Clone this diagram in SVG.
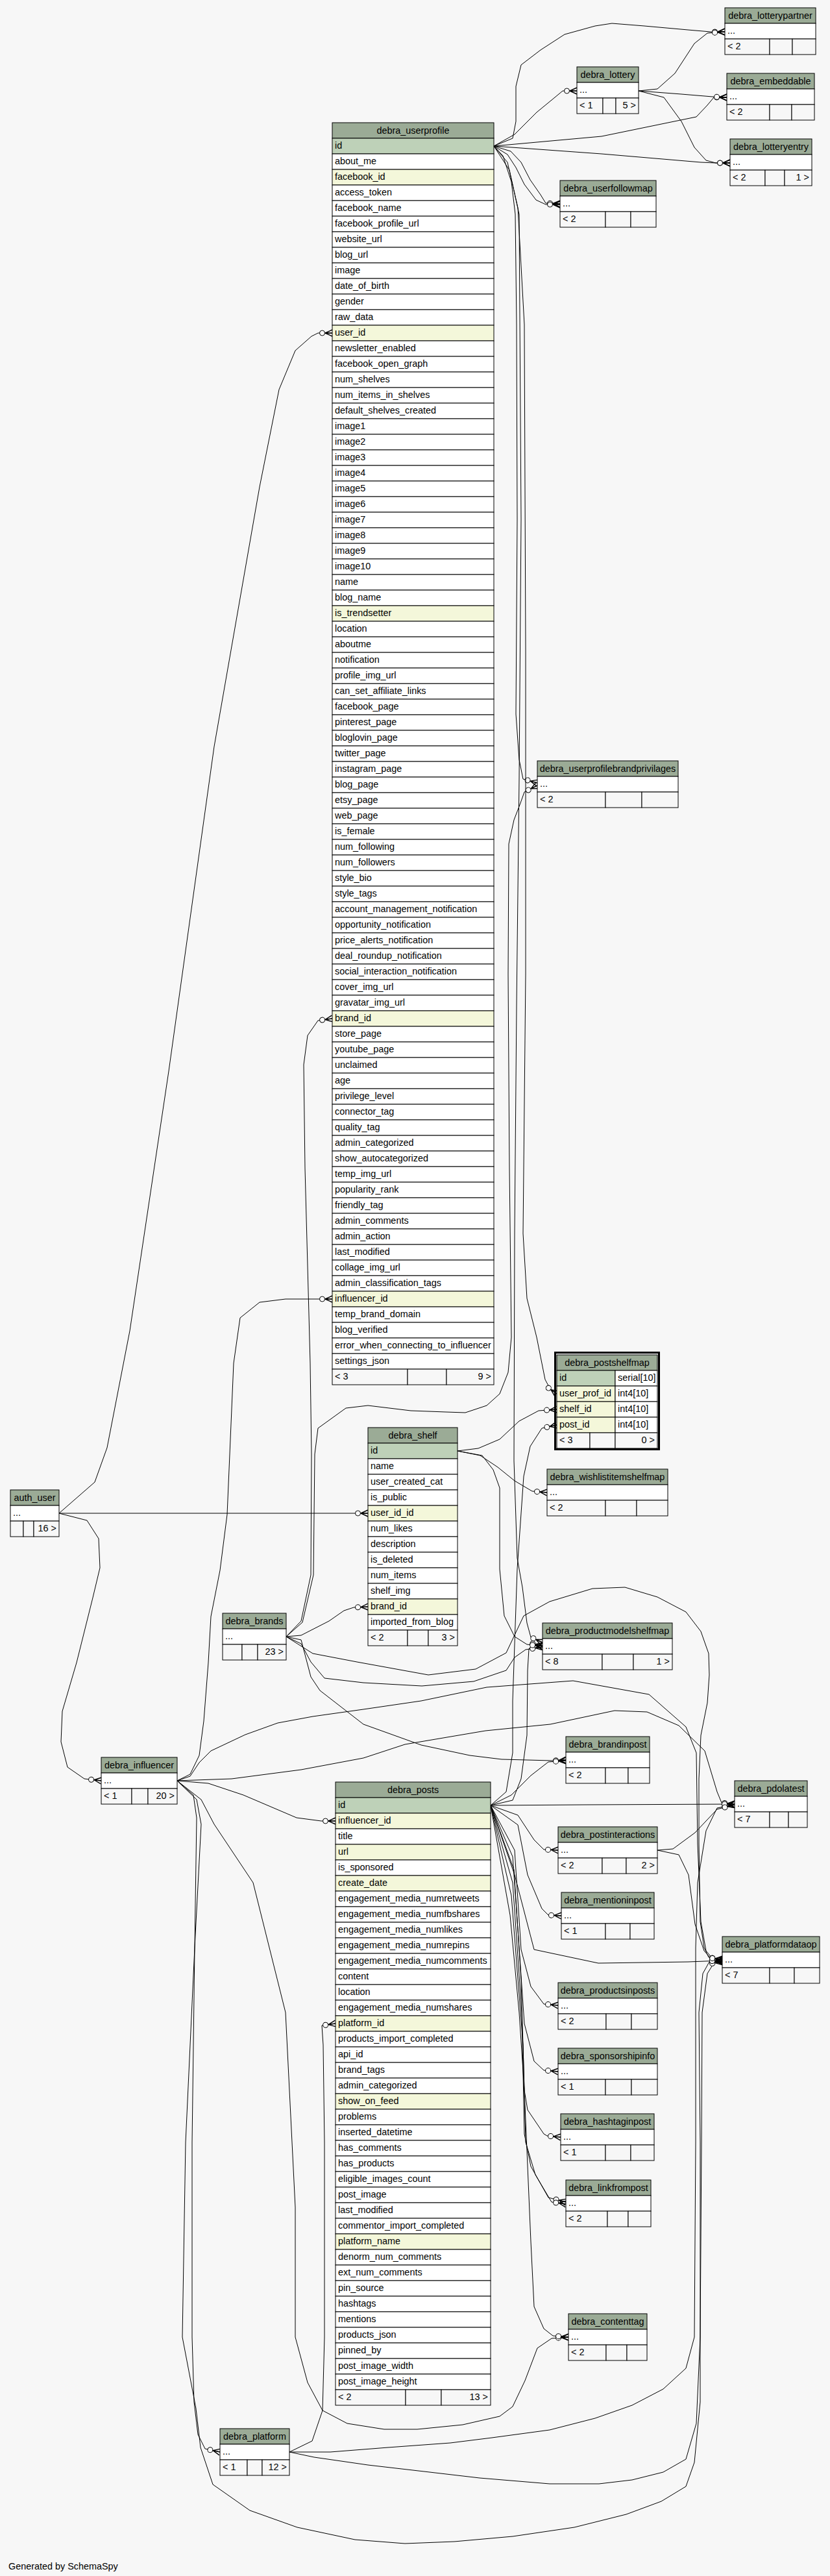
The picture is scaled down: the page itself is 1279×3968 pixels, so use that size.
<svg xmlns="http://www.w3.org/2000/svg" width="1279" height="3968" viewBox="0 0 1279 3968">
<style>
.h{fill:#9bab96;stroke:#000;stroke-width:1}
.pk{fill:#bed1b8;stroke:#000;stroke-width:1}
.fk{fill:#f4f7da;stroke:#000;stroke-width:1}
.r{fill:#fff;stroke:#000;stroke-width:1}
.f{fill:#f7f7f7;stroke:#000;stroke-width:1}
text{font-family:"Liberation Sans",Arial,Helvetica,sans-serif;font-size:14.4px;fill:#000}
.c{text-anchor:middle}
.e{text-anchor:end}
#edges path{fill:none;stroke:#000;stroke-width:1;stroke-linejoin:round;marker-end:url(#cf)}
</style>
<defs>
<marker id="cf" markerUnits="userSpaceOnUse" markerWidth="24" markerHeight="16" refX="22" refY="8" orient="auto" overflow="visible">
<path d="M11,8 L22,3 M11,8 L22,8 M11,8 L22,13" stroke="#000" fill="none" stroke-width="1.4"/>
<circle cx="6.5" cy="8" r="4" fill="#fff" stroke="#000" stroke-width="1"/>
</marker>
</defs>
<rect width="1279" height="3968" fill="#f7f7f7"/>
<g id="edges">
<path d="M761,225 L790,213 L795,187 L795,133 L803,100 L833,77 L870,53 L917,40 L943,36 L993,40 L1060,46 L1095,49 L1117,49"/>
<path d="M761,225 L793,207 L827,173 L855,150 L867,140 L889,140"/>
<path d="M761,225 L927,210 L1073,180 L1090,162 L1100,150 L1120,150"/>
<path d="M761,225 L927,237 L1080,250 L1103,251 L1125,251"/>
<path d="M761,225 L787,233 L803,250 L817,277 L833,300 L841,313 L863,314"/>
<path d="M761,225 L782,238 L795,258 L808,284 L826,308 L841,315 L863,315"/>
<path d="M984,140 L1013,137 L1040,113 L1070,67 L1090,51 L1117,49"/>
<path d="M984,140 L1050,145 L1098,149 L1120,150"/>
<path d="M984,140 L1023,150 L1050,187 L1070,227 L1088,247 L1103,251 L1125,251"/>
<path d="M761,225 L775,240 L788,280 L794,330 L796,500 L797,800 L795,1100 L800,1170 L806,1200 L828,1206"/>
<path d="M761,225 L782,250 L798,320 L808,500 L810,1000 L810,1500 L806,1900 L812,2000 L827,2060 L840,2125 L848,2140 L858,2147"/>
<path d="M761,225 L785,262 L800,330 L803,800 L800,1200 L796,1550 L793,1900 L792,2250 L797,2400 L805,2445 L812,2500 L818,2522 L836,2530"/>
<path d="M91,2331 L146,2283 L165,2230 L200,2050 L260,1650 L330,1150 L400,750 L430,600 L455,540 L480,518 L490,513 L512,513"/>
<path d="M91,2331 L567,2331"/>
<path d="M91,2331 L134,2342 L152,2370 L154,2415 L143,2461 L118,2561 L96,2636 L94,2683 L104,2722 L130,2740 L156,2743"/>
<path d="M441,2521 L464,2497 L479,2426 L480,2240 L478,2100 L470,1800 L468,1640 L474,1595 L490,1572 L512,1569"/>
<path d="M441,2521 L466,2499 L483,2426 L485,2240 L490,2200 L533,2169 L567,2165 L633,2173 L687,2175 L717,2176 L750,2165 L770,2147 L783,2114 L788,2060 L785,1800 L783,1500 L784,1300 L792,1263 L802,1237 L808,1220 L828,1210"/>
<path d="M441,2521 L464,2519 L507,2497 L530,2481 L545,2476 L567,2475"/>
<path d="M441,2521 L464,2532 L479,2560 L500,2585 L560,2592 L650,2597 L730,2590 L780,2573 L793,2553 L810,2541 L836,2537"/>
<path d="M441,2521 L464,2526 L479,2583 L493,2604 L560,2656 L649,2688 L724,2704 L773,2710 L850,2712 L872,2711"/>
<path d="M441,2521 L482,2547 L550,2560 L660,2580 L733,2571 L780,2546 L807,2489 L847,2467 L913,2447 L963,2445 L1013,2460 L1057,2483 L1080,2513 L1092,2547 L1093,2580 L1090,2623 L1080,2673 L1077,2740 L1077,2840 L1079,2960 L1085,3000 L1092,3015 L1113,3019"/>
<path d="M273,2743 L293,2733 L307,2704 L314,2651 L321,2561 L325,2490 L339,2419 L350,2333 L354,2240 L360,2100 L370,2030 L400,2006 L440,2001 L490,2001 L512,2001"/>
<path d="M273,2743 L321,2747 L375,2765 L457,2800 L495,2805 L517,2805"/>
<path d="M273,2743 L293,2736 L307,2715 L325,2697 L378,2672 L428,2654 L482,2644 L560,2633 L649,2620 L750,2599 L883,2589 L1000,2610 L1057,2660 L1073,2700 L1075,2840 L1080,2960 L1088,3005 L1098,3017 L1113,3018"/>
<path d="M273,2743 L357,2740 L464,2726 L560,2708 L624,2687 L748,2666 L848,2656 L947,2635 L997,2637 L1046,2658 L1086,2697 L1105,2760 L1112,2777 L1132,2779"/>
<path d="M273,2743 L298,2765 L303,2800 L300,3000 L296,3300 L296,3600 L299,3700 L305,3750 L316,3772 L339,3777"/>
<path d="M273,2743 L303,2772 L310,2810 L300,3000 L286,3300 L281,3600 L302,3710 L309,3770 L328,3827 L385,3867 L458,3893 L547,3912 L624,3918 L700,3915 L790,3907 L885,3893 L965,3873 L1019,3853 L1057,3830 L1070,3793 L1079,3700 L1079,3300 L1077,3100 L1083,3040 L1093,3022 L1113,3021"/>
<path d="M273,2743 L310,2772 L330,2810 L390,2900 L440,3100 L455,3400 L455,3600 L474,3670 L497,3713 L535,3733 L592,3742 L643,3742 L713,3735 L770,3722 L790,3707 L809,3667 L828,3617 L850,3602 L876,3600"/>
<path d="M446,3777 L481,3760 L497,3713 L500,3600 L500,3300 L498,3150 L496,3120 L517,3117"/>
<path d="M446,3777 L509,3777 L598,3770 L694,3763 L758,3755 L847,3743 L917,3725 L974,3705 L1022,3680 L1057,3648 L1070,3600 L1072,3300 L1072,3000 L1075,2900 L1088,2820 L1105,2785 L1132,2780"/>
<path d="M446,3777 L484,3785 L567,3797 L662,3808 L739,3817 L847,3826 L923,3826 L974,3820 L1022,3808 L1057,3788 L1073,3733 L1079,3600 L1081,3300 L1082,3100 L1090,3040 L1100,3024 L1113,3022"/>
<path d="M756,2781 L900,2780 L1132,2779"/>
<path d="M756,2781 L788,2765 L818,2735 L845,2714 L872,2712"/>
<path d="M756,2781 L798,2796 L823,2834 L838,2849 L860,2850"/>
<path d="M756,2781 L798,2811 L813,2888 L835,2940 L845,2950 L865,2951"/>
<path d="M756,2781 L793,2888 L823,3003 L922,3024 L1060,3022 L1113,3020"/>
<path d="M756,2781 L793,2850 L803,3003 L818,3060 L838,3087 L860,3089"/>
<path d="M756,2781 L790,2860 L800,3000 L808,3117 L823,3175 L838,3189 L860,3191"/>
<path d="M756,2781 L792,2880 L803,3050 L808,3220 L813,3250 L838,3287 L843,3290 L864,3292"/>
<path d="M756,2781 L790,2900 L804,3100 L808,3287 L818,3337 L845,3385 L872,3392"/>
<path d="M756,2781 L788,2920 L806,3150 L810,3300 L825,3350 L850,3392 L872,3395"/>
<path d="M756,2781 L786,2950 L800,3100 L808,3220 L818,3453 L823,3553 L838,3587 L852,3598 L876,3600"/>
<path d="M756,2781 L780,2760 L790,2700 L790,2620 L797,2417 L807,2274 L817,2228 L835,2200 L858,2195"/>
<path d="M756,2781 L790,2773 L803,2740 L812,2673 L813,2573 L815,2540 L822,2532 L836,2535"/>
<path d="M705,2235 L737,2231 L770,2217 L800,2189 L830,2173 L858,2171"/>
<path d="M705,2235 L740,2242 L767,2260 L793,2281 L820,2297 L843,2299"/>
<path d="M705,2235 L743,2242 L760,2264 L770,2292 L770,2417 L777,2489 L793,2521 L812,2533 L836,2536"/>
<path d="M1013,2850 L1037,2848 L1071,2823 L1105,2787 L1132,2780"/>
<path d="M1013,2850 L1046,2857 L1061,2888 L1071,2964 L1085,3005 L1095,3016 L1113,3019"/>
</g>
<g id="debra_lotterypartner">
<rect class="h" x="1117" y="12" width="140" height="24"/><text class="c" x="1187" y="29">debra_lotterypartner</text>
<rect class="r" x="1117" y="36" width="140" height="24"/><text x="1121" y="52">...</text>
<rect class="f" x="1117" y="60" width="69" height="24"/><rect class="f" x="1186" y="60" width="35" height="24"/><rect class="f" x="1221" y="60" width="36" height="24"/>
<text x="1121" y="76">&lt; 2</text>
</g>
<g id="debra_lottery">
<rect class="h" x="889" y="103" width="95" height="24"/><text class="c" x="936.5" y="120">debra_lottery</text>
<rect class="r" x="889" y="127" width="95" height="24"/><text x="893" y="143">...</text>
<rect class="f" x="889" y="151" width="40" height="24"/><rect class="f" x="929" y="151" width="20" height="24"/><rect class="f" x="949" y="151" width="35" height="24"/>
<text x="893" y="167">&lt; 1</text><text class="e" x="980" y="167">5 &gt;</text>
</g>
<g id="debra_embeddable">
<rect class="h" x="1120" y="113" width="135" height="24"/><text class="c" x="1187.5" y="130">debra_embeddable</text>
<rect class="r" x="1120" y="137" width="135" height="24"/><text x="1124" y="153">...</text>
<rect class="f" x="1120" y="161" width="66" height="24"/><rect class="f" x="1186" y="161" width="34" height="24"/><rect class="f" x="1220" y="161" width="35" height="24"/>
<text x="1124" y="177">&lt; 2</text>
</g>
<g id="debra_lotteryentry">
<rect class="h" x="1125" y="214" width="126" height="24"/><text class="c" x="1188" y="231">debra_lotteryentry</text>
<rect class="r" x="1125" y="238" width="126" height="24"/><text x="1129" y="254">...</text>
<rect class="f" x="1125" y="262" width="54" height="24"/><rect class="f" x="1179" y="262" width="30" height="24"/><rect class="f" x="1209" y="262" width="42" height="24"/>
<text x="1129" y="278">&lt; 2</text><text class="e" x="1247" y="278">1 &gt;</text>
</g>
<g id="debra_userfollowmap">
<rect class="h" x="863" y="278" width="148" height="24"/><text class="c" x="937" y="295">debra_userfollowmap</text>
<rect class="r" x="863" y="302" width="148" height="24"/><text x="867" y="318">...</text>
<rect class="f" x="863" y="326" width="70" height="24"/><rect class="f" x="933" y="326" width="39" height="24"/><rect class="f" x="972" y="326" width="39" height="24"/>
<text x="867" y="342">&lt; 2</text>
</g>
<g id="debra_userprofile">
<rect class="h" x="512" y="189" width="249" height="24"/><text class="c" x="636.5" y="206">debra_userprofile</text>
<rect class="pk" x="512" y="213" width="249" height="24"/><text x="516" y="229">id</text>
<rect class="r" x="512" y="237" width="249" height="24"/><text x="516" y="253">about_me</text>
<rect class="fk" x="512" y="261" width="249" height="24"/><text x="516" y="277">facebook_id</text>
<rect class="r" x="512" y="285" width="249" height="24"/><text x="516" y="301">access_token</text>
<rect class="r" x="512" y="309" width="249" height="24"/><text x="516" y="325">facebook_name</text>
<rect class="r" x="512" y="333" width="249" height="24"/><text x="516" y="349">facebook_profile_url</text>
<rect class="r" x="512" y="357" width="249" height="24"/><text x="516" y="373">website_url</text>
<rect class="r" x="512" y="381" width="249" height="24"/><text x="516" y="397">blog_url</text>
<rect class="r" x="512" y="405" width="249" height="24"/><text x="516" y="421">image</text>
<rect class="r" x="512" y="429" width="249" height="24"/><text x="516" y="445">date_of_birth</text>
<rect class="r" x="512" y="453" width="249" height="24"/><text x="516" y="469">gender</text>
<rect class="r" x="512" y="477" width="249" height="24"/><text x="516" y="493">raw_data</text>
<rect class="fk" x="512" y="501" width="249" height="24"/><text x="516" y="517">user_id</text>
<rect class="r" x="512" y="525" width="249" height="24"/><text x="516" y="541">newsletter_enabled</text>
<rect class="r" x="512" y="549" width="249" height="24"/><text x="516" y="565">facebook_open_graph</text>
<rect class="r" x="512" y="573" width="249" height="24"/><text x="516" y="589">num_shelves</text>
<rect class="r" x="512" y="597" width="249" height="24"/><text x="516" y="613">num_items_in_shelves</text>
<rect class="r" x="512" y="621" width="249" height="24"/><text x="516" y="637">default_shelves_created</text>
<rect class="r" x="512" y="645" width="249" height="24"/><text x="516" y="661">image1</text>
<rect class="r" x="512" y="669" width="249" height="24"/><text x="516" y="685">image2</text>
<rect class="r" x="512" y="693" width="249" height="24"/><text x="516" y="709">image3</text>
<rect class="r" x="512" y="717" width="249" height="24"/><text x="516" y="733">image4</text>
<rect class="r" x="512" y="741" width="249" height="24"/><text x="516" y="757">image5</text>
<rect class="r" x="512" y="765" width="249" height="24"/><text x="516" y="781">image6</text>
<rect class="r" x="512" y="789" width="249" height="24"/><text x="516" y="805">image7</text>
<rect class="r" x="512" y="813" width="249" height="24"/><text x="516" y="829">image8</text>
<rect class="r" x="512" y="837" width="249" height="24"/><text x="516" y="853">image9</text>
<rect class="r" x="512" y="861" width="249" height="24"/><text x="516" y="877">image10</text>
<rect class="r" x="512" y="885" width="249" height="24"/><text x="516" y="901">name</text>
<rect class="r" x="512" y="909" width="249" height="24"/><text x="516" y="925">blog_name</text>
<rect class="fk" x="512" y="933" width="249" height="24"/><text x="516" y="949">is_trendsetter</text>
<rect class="r" x="512" y="957" width="249" height="24"/><text x="516" y="973">location</text>
<rect class="r" x="512" y="981" width="249" height="24"/><text x="516" y="997">aboutme</text>
<rect class="r" x="512" y="1005" width="249" height="24"/><text x="516" y="1021">notification</text>
<rect class="r" x="512" y="1029" width="249" height="24"/><text x="516" y="1045">profile_img_url</text>
<rect class="r" x="512" y="1053" width="249" height="24"/><text x="516" y="1069">can_set_affiliate_links</text>
<rect class="r" x="512" y="1077" width="249" height="24"/><text x="516" y="1093">facebook_page</text>
<rect class="r" x="512" y="1101" width="249" height="24"/><text x="516" y="1117">pinterest_page</text>
<rect class="r" x="512" y="1125" width="249" height="24"/><text x="516" y="1141">bloglovin_page</text>
<rect class="r" x="512" y="1149" width="249" height="24"/><text x="516" y="1165">twitter_page</text>
<rect class="r" x="512" y="1173" width="249" height="24"/><text x="516" y="1189">instagram_page</text>
<rect class="r" x="512" y="1197" width="249" height="24"/><text x="516" y="1213">blog_page</text>
<rect class="r" x="512" y="1221" width="249" height="24"/><text x="516" y="1237">etsy_page</text>
<rect class="r" x="512" y="1245" width="249" height="24"/><text x="516" y="1261">web_page</text>
<rect class="r" x="512" y="1269" width="249" height="24"/><text x="516" y="1285">is_female</text>
<rect class="r" x="512" y="1293" width="249" height="24"/><text x="516" y="1309">num_following</text>
<rect class="r" x="512" y="1317" width="249" height="24"/><text x="516" y="1333">num_followers</text>
<rect class="r" x="512" y="1341" width="249" height="24"/><text x="516" y="1357">style_bio</text>
<rect class="r" x="512" y="1365" width="249" height="24"/><text x="516" y="1381">style_tags</text>
<rect class="r" x="512" y="1389" width="249" height="24"/><text x="516" y="1405">account_management_notification</text>
<rect class="r" x="512" y="1413" width="249" height="24"/><text x="516" y="1429">opportunity_notification</text>
<rect class="r" x="512" y="1437" width="249" height="24"/><text x="516" y="1453">price_alerts_notification</text>
<rect class="r" x="512" y="1461" width="249" height="24"/><text x="516" y="1477">deal_roundup_notification</text>
<rect class="r" x="512" y="1485" width="249" height="24"/><text x="516" y="1501">social_interaction_notification</text>
<rect class="r" x="512" y="1509" width="249" height="24"/><text x="516" y="1525">cover_img_url</text>
<rect class="r" x="512" y="1533" width="249" height="24"/><text x="516" y="1549">gravatar_img_url</text>
<rect class="fk" x="512" y="1557" width="249" height="24"/><text x="516" y="1573">brand_id</text>
<rect class="r" x="512" y="1581" width="249" height="24"/><text x="516" y="1597">store_page</text>
<rect class="r" x="512" y="1605" width="249" height="24"/><text x="516" y="1621">youtube_page</text>
<rect class="r" x="512" y="1629" width="249" height="24"/><text x="516" y="1645">unclaimed</text>
<rect class="r" x="512" y="1653" width="249" height="24"/><text x="516" y="1669">age</text>
<rect class="r" x="512" y="1677" width="249" height="24"/><text x="516" y="1693">privilege_level</text>
<rect class="r" x="512" y="1701" width="249" height="24"/><text x="516" y="1717">connector_tag</text>
<rect class="r" x="512" y="1725" width="249" height="24"/><text x="516" y="1741">quality_tag</text>
<rect class="r" x="512" y="1749" width="249" height="24"/><text x="516" y="1765">admin_categorized</text>
<rect class="r" x="512" y="1773" width="249" height="24"/><text x="516" y="1789">show_autocategorized</text>
<rect class="r" x="512" y="1797" width="249" height="24"/><text x="516" y="1813">temp_img_url</text>
<rect class="r" x="512" y="1821" width="249" height="24"/><text x="516" y="1837">popularity_rank</text>
<rect class="r" x="512" y="1845" width="249" height="24"/><text x="516" y="1861">friendly_tag</text>
<rect class="r" x="512" y="1869" width="249" height="24"/><text x="516" y="1885">admin_comments</text>
<rect class="r" x="512" y="1893" width="249" height="24"/><text x="516" y="1909">admin_action</text>
<rect class="r" x="512" y="1917" width="249" height="24"/><text x="516" y="1933">last_modified</text>
<rect class="r" x="512" y="1941" width="249" height="24"/><text x="516" y="1957">collage_img_url</text>
<rect class="r" x="512" y="1965" width="249" height="24"/><text x="516" y="1981">admin_classification_tags</text>
<rect class="fk" x="512" y="1989" width="249" height="24"/><text x="516" y="2005">influencer_id</text>
<rect class="r" x="512" y="2013" width="249" height="24"/><text x="516" y="2029">temp_brand_domain</text>
<rect class="r" x="512" y="2037" width="249" height="24"/><text x="516" y="2053">blog_verified</text>
<rect class="r" x="512" y="2061" width="249" height="24"/><text x="516" y="2077">error_when_connecting_to_influencer</text>
<rect class="r" x="512" y="2085" width="249" height="24"/><text x="516" y="2101">settings_json</text>
<rect class="f" x="512" y="2109" width="116" height="24"/><rect class="f" x="628" y="2109" width="60" height="24"/><rect class="f" x="688" y="2109" width="73" height="24"/>
<text x="516" y="2125">&lt; 3</text><text class="e" x="757" y="2125">9 &gt;</text>
</g>
<g id="debra_userprofilebrandprivilages">
<rect class="h" x="828" y="1172" width="217" height="24"/><text class="c" x="936.5" y="1189">debra_userprofilebrandprivilages</text>
<rect class="r" x="828" y="1196" width="217" height="24"/><text x="832" y="1212">...</text>
<rect class="f" x="828" y="1220" width="105" height="24"/><rect class="f" x="933" y="1220" width="56" height="24"/><rect class="f" x="989" y="1220" width="56" height="24"/>
<text x="832" y="1236">&lt; 2</text>
</g>
<g id="debra_postshelfmap">
<rect x="855.5" y="2083.5" width="160" height="149" fill="none" stroke="#000" stroke-width="3"/>
<rect class="h" x="858" y="2087" width="155" height="24"/><text class="c" x="935.5" y="2104">debra_postshelfmap</text>
<rect class="pk" x="858" y="2111" width="90" height="24"/><rect class="r" x="948" y="2111" width="65" height="24"/>
<text x="862" y="2127">id</text><text x="952" y="2127">serial[10]</text>
<rect class="fk" x="858" y="2135" width="90" height="24"/><rect class="r" x="948" y="2135" width="65" height="24"/>
<text x="862" y="2151">user_prof_id</text><text x="952" y="2151">int4[10]</text>
<rect class="fk" x="858" y="2159" width="90" height="24"/><rect class="r" x="948" y="2159" width="65" height="24"/>
<text x="862" y="2175">shelf_id</text><text x="952" y="2175">int4[10]</text>
<rect class="fk" x="858" y="2183" width="90" height="24"/><rect class="r" x="948" y="2183" width="65" height="24"/>
<text x="862" y="2199">post_id</text><text x="952" y="2199">int4[10]</text>
<rect class="f" x="858" y="2207" width="51" height="24"/><rect class="f" x="909" y="2207" width="39" height="24"/><rect class="f" x="948" y="2207" width="65" height="24"/>
<text x="862" y="2223">&lt; 3</text><text class="e" x="1009" y="2223">0 &gt;</text>
</g>
<g id="debra_shelf">
<rect class="h" x="567" y="2199" width="138" height="24"/><text class="c" x="636" y="2216">debra_shelf</text>
<rect class="pk" x="567" y="2223" width="138" height="24"/><text x="571" y="2239">id</text>
<rect class="r" x="567" y="2247" width="138" height="24"/><text x="571" y="2263">name</text>
<rect class="r" x="567" y="2271" width="138" height="24"/><text x="571" y="2287">user_created_cat</text>
<rect class="r" x="567" y="2295" width="138" height="24"/><text x="571" y="2311">is_public</text>
<rect class="fk" x="567" y="2319" width="138" height="24"/><text x="571" y="2335">user_id_id</text>
<rect class="r" x="567" y="2343" width="138" height="24"/><text x="571" y="2359">num_likes</text>
<rect class="r" x="567" y="2367" width="138" height="24"/><text x="571" y="2383">description</text>
<rect class="r" x="567" y="2391" width="138" height="24"/><text x="571" y="2407">is_deleted</text>
<rect class="r" x="567" y="2415" width="138" height="24"/><text x="571" y="2431">num_items</text>
<rect class="r" x="567" y="2439" width="138" height="24"/><text x="571" y="2455">shelf_img</text>
<rect class="fk" x="567" y="2463" width="138" height="24"/><text x="571" y="2479">brand_id</text>
<rect class="r" x="567" y="2487" width="138" height="24"/><text x="571" y="2503">imported_from_blog</text>
<rect class="f" x="567" y="2511" width="61" height="24"/><rect class="f" x="628" y="2511" width="32" height="24"/><rect class="f" x="660" y="2511" width="45" height="24"/>
<text x="571" y="2527">&lt; 2</text><text class="e" x="701" y="2527">3 &gt;</text>
</g>
<g id="debra_wishlistitemshelfmap">
<rect class="h" x="843" y="2263" width="186" height="24"/><text class="c" x="936" y="2280">debra_wishlistitemshelfmap</text>
<rect class="r" x="843" y="2287" width="186" height="24"/><text x="847" y="2303">...</text>
<rect class="f" x="843" y="2311" width="90" height="24"/><rect class="f" x="933" y="2311" width="48" height="24"/><rect class="f" x="981" y="2311" width="48" height="24"/>
<text x="847" y="2327">&lt; 2</text>
</g>
<g id="debra_productmodelshelfmap">
<rect class="h" x="836" y="2500" width="200" height="24"/><text class="c" x="936" y="2517">debra_productmodelshelfmap</text>
<rect class="r" x="836" y="2524" width="200" height="24"/><text x="840" y="2540">...</text>
<rect class="f" x="836" y="2548" width="92" height="24"/><rect class="f" x="928" y="2548" width="48" height="24"/><rect class="f" x="976" y="2548" width="60" height="24"/>
<text x="840" y="2564">&lt; 8</text><text class="e" x="1032" y="2564">1 &gt;</text>
</g>
<g id="auth_user">
<rect class="h" x="16" y="2295" width="75" height="24"/><text class="c" x="53.5" y="2312">auth_user</text>
<rect class="r" x="16" y="2319" width="75" height="24"/><text x="20" y="2335">...</text>
<rect class="f" x="16" y="2343" width="20" height="24"/><rect class="f" x="36" y="2343" width="16" height="24"/><rect class="f" x="52" y="2343" width="39" height="24"/>
<text class="e" x="87" y="2359">16 &gt;</text>
</g>
<g id="debra_brands">
<rect class="h" x="343" y="2485" width="98" height="24"/><text class="c" x="392" y="2502">debra_brands</text>
<rect class="r" x="343" y="2509" width="98" height="24"/><text x="347" y="2525">...</text>
<rect class="f" x="343" y="2533" width="30" height="24"/><rect class="f" x="373" y="2533" width="24" height="24"/><rect class="f" x="397" y="2533" width="44" height="24"/>
<text class="e" x="437" y="2549">23 &gt;</text>
</g>
<g id="debra_influencer">
<rect class="h" x="156" y="2707" width="117" height="24"/><text class="c" x="214.5" y="2724">debra_influencer</text>
<rect class="r" x="156" y="2731" width="117" height="24"/><text x="160" y="2747">...</text>
<rect class="f" x="156" y="2755" width="47" height="24"/><rect class="f" x="203" y="2755" width="25" height="24"/><rect class="f" x="228" y="2755" width="45" height="24"/>
<text x="160" y="2771">&lt; 1</text><text class="e" x="269" y="2771">20 &gt;</text>
</g>
<g id="debra_brandinpost">
<rect class="h" x="872" y="2675" width="129" height="24"/><text class="c" x="936.5" y="2692">debra_brandinpost</text>
<rect class="r" x="872" y="2699" width="129" height="24"/><text x="876" y="2715">...</text>
<rect class="f" x="872" y="2723" width="61" height="24"/><rect class="f" x="933" y="2723" width="35" height="24"/><rect class="f" x="968" y="2723" width="33" height="24"/>
<text x="876" y="2739">&lt; 2</text>
</g>
<g id="debra_pdolatest">
<rect class="h" x="1132" y="2743" width="112" height="24"/><text class="c" x="1188" y="2760">debra_pdolatest</text>
<rect class="r" x="1132" y="2767" width="112" height="24"/><text x="1136" y="2783">...</text>
<rect class="f" x="1132" y="2791" width="54" height="24"/><rect class="f" x="1186" y="2791" width="29" height="24"/><rect class="f" x="1215" y="2791" width="29" height="24"/>
<text x="1136" y="2807">&lt; 7</text>
</g>
<g id="debra_postinteractions">
<rect class="h" x="860" y="2814" width="153" height="24"/><text class="c" x="936.5" y="2831">debra_postinteractions</text>
<rect class="r" x="860" y="2838" width="153" height="24"/><text x="864" y="2854">...</text>
<rect class="f" x="860" y="2862" width="68" height="24"/><rect class="f" x="928" y="2862" width="37" height="24"/><rect class="f" x="965" y="2862" width="48" height="24"/>
<text x="864" y="2878">&lt; 2</text><text class="e" x="1009" y="2878">2 &gt;</text>
</g>
<g id="debra_mentioninpost">
<rect class="h" x="865" y="2915" width="143" height="24"/><text class="c" x="936.5" y="2932">debra_mentioninpost</text>
<rect class="r" x="865" y="2939" width="143" height="24"/><text x="869" y="2955">...</text>
<rect class="f" x="865" y="2963" width="68" height="24"/><rect class="f" x="933" y="2963" width="38" height="24"/><rect class="f" x="971" y="2963" width="37" height="24"/>
<text x="869" y="2979">&lt; 1</text>
</g>
<g id="debra_platformdataop">
<rect class="h" x="1113" y="2983" width="150" height="24"/><text class="c" x="1188" y="3000">debra_platformdataop</text>
<rect class="r" x="1113" y="3007" width="150" height="24"/><text x="1117" y="3023">...</text>
<rect class="f" x="1113" y="3031" width="73" height="24"/><rect class="f" x="1186" y="3031" width="38" height="24"/><rect class="f" x="1224" y="3031" width="39" height="24"/>
<text x="1117" y="3047">&lt; 7</text>
</g>
<g id="debra_productsinposts">
<rect class="h" x="860" y="3054" width="153" height="24"/><text class="c" x="936.5" y="3071">debra_productsinposts</text>
<rect class="r" x="860" y="3078" width="153" height="24"/><text x="864" y="3094">...</text>
<rect class="f" x="860" y="3102" width="74" height="24"/><rect class="f" x="934" y="3102" width="39" height="24"/><rect class="f" x="973" y="3102" width="40" height="24"/>
<text x="864" y="3118">&lt; 2</text>
</g>
<g id="debra_sponsorshipinfo">
<rect class="h" x="860" y="3155" width="153" height="24"/><text class="c" x="936.5" y="3172">debra_sponsorshipinfo</text>
<rect class="r" x="860" y="3179" width="153" height="24"/><text x="864" y="3195">...</text>
<rect class="f" x="860" y="3203" width="73" height="24"/><rect class="f" x="933" y="3203" width="40" height="24"/><rect class="f" x="973" y="3203" width="40" height="24"/>
<text x="864" y="3219">&lt; 1</text>
</g>
<g id="debra_hashtaginpost">
<rect class="h" x="864" y="3256" width="144" height="24"/><text class="c" x="936" y="3273">debra_hashtaginpost</text>
<rect class="r" x="864" y="3280" width="144" height="24"/><text x="868" y="3296">...</text>
<rect class="f" x="864" y="3304" width="69" height="24"/><rect class="f" x="933" y="3304" width="39" height="24"/><rect class="f" x="972" y="3304" width="36" height="24"/>
<text x="868" y="3320">&lt; 1</text>
</g>
<g id="debra_linkfrompost">
<rect class="h" x="872" y="3358" width="131" height="24"/><text class="c" x="937.5" y="3375">debra_linkfrompost</text>
<rect class="r" x="872" y="3382" width="131" height="24"/><text x="876" y="3398">...</text>
<rect class="f" x="872" y="3406" width="64" height="24"/><rect class="f" x="936" y="3406" width="32" height="24"/><rect class="f" x="968" y="3406" width="35" height="24"/>
<text x="876" y="3422">&lt; 2</text>
</g>
<g id="debra_contenttag">
<rect class="h" x="876" y="3564" width="121" height="24"/><text class="c" x="936.5" y="3581">debra_contenttag</text>
<rect class="r" x="876" y="3588" width="121" height="24"/><text x="880" y="3604">...</text>
<rect class="f" x="876" y="3612" width="58" height="24"/><rect class="f" x="934" y="3612" width="32" height="24"/><rect class="f" x="966" y="3612" width="31" height="24"/>
<text x="880" y="3628">&lt; 2</text>
</g>
<g id="debra_posts">
<rect class="h" x="517" y="2745" width="239" height="24"/><text class="c" x="636.5" y="2762">debra_posts</text>
<rect class="pk" x="517" y="2769" width="239" height="24"/><text x="521" y="2785">id</text>
<rect class="fk" x="517" y="2793" width="239" height="24"/><text x="521" y="2809">influencer_id</text>
<rect class="r" x="517" y="2817" width="239" height="24"/><text x="521" y="2833">title</text>
<rect class="fk" x="517" y="2841" width="239" height="24"/><text x="521" y="2857">url</text>
<rect class="r" x="517" y="2865" width="239" height="24"/><text x="521" y="2881">is_sponsored</text>
<rect class="fk" x="517" y="2889" width="239" height="24"/><text x="521" y="2905">create_date</text>
<rect class="r" x="517" y="2913" width="239" height="24"/><text x="521" y="2929">engagement_media_numretweets</text>
<rect class="r" x="517" y="2937" width="239" height="24"/><text x="521" y="2953">engagement_media_numfbshares</text>
<rect class="r" x="517" y="2961" width="239" height="24"/><text x="521" y="2977">engagement_media_numlikes</text>
<rect class="r" x="517" y="2985" width="239" height="24"/><text x="521" y="3001">engagement_media_numrepins</text>
<rect class="r" x="517" y="3009" width="239" height="24"/><text x="521" y="3025">engagement_media_numcomments</text>
<rect class="r" x="517" y="3033" width="239" height="24"/><text x="521" y="3049">content</text>
<rect class="r" x="517" y="3057" width="239" height="24"/><text x="521" y="3073">location</text>
<rect class="r" x="517" y="3081" width="239" height="24"/><text x="521" y="3097">engagement_media_numshares</text>
<rect class="fk" x="517" y="3105" width="239" height="24"/><text x="521" y="3121">platform_id</text>
<rect class="r" x="517" y="3129" width="239" height="24"/><text x="521" y="3145">products_import_completed</text>
<rect class="r" x="517" y="3153" width="239" height="24"/><text x="521" y="3169">api_id</text>
<rect class="r" x="517" y="3177" width="239" height="24"/><text x="521" y="3193">brand_tags</text>
<rect class="r" x="517" y="3201" width="239" height="24"/><text x="521" y="3217">admin_categorized</text>
<rect class="fk" x="517" y="3225" width="239" height="24"/><text x="521" y="3241">show_on_feed</text>
<rect class="r" x="517" y="3249" width="239" height="24"/><text x="521" y="3265">problems</text>
<rect class="r" x="517" y="3273" width="239" height="24"/><text x="521" y="3289">inserted_datetime</text>
<rect class="r" x="517" y="3297" width="239" height="24"/><text x="521" y="3313">has_comments</text>
<rect class="r" x="517" y="3321" width="239" height="24"/><text x="521" y="3337">has_products</text>
<rect class="r" x="517" y="3345" width="239" height="24"/><text x="521" y="3361">eligible_images_count</text>
<rect class="r" x="517" y="3369" width="239" height="24"/><text x="521" y="3385">post_image</text>
<rect class="r" x="517" y="3393" width="239" height="24"/><text x="521" y="3409">last_modified</text>
<rect class="r" x="517" y="3417" width="239" height="24"/><text x="521" y="3433">commentor_import_completed</text>
<rect class="fk" x="517" y="3441" width="239" height="24"/><text x="521" y="3457">platform_name</text>
<rect class="r" x="517" y="3465" width="239" height="24"/><text x="521" y="3481">denorm_num_comments</text>
<rect class="r" x="517" y="3489" width="239" height="24"/><text x="521" y="3505">ext_num_comments</text>
<rect class="r" x="517" y="3513" width="239" height="24"/><text x="521" y="3529">pin_source</text>
<rect class="r" x="517" y="3537" width="239" height="24"/><text x="521" y="3553">hashtags</text>
<rect class="r" x="517" y="3561" width="239" height="24"/><text x="521" y="3577">mentions</text>
<rect class="r" x="517" y="3585" width="239" height="24"/><text x="521" y="3601">products_json</text>
<rect class="r" x="517" y="3609" width="239" height="24"/><text x="521" y="3625">pinned_by</text>
<rect class="r" x="517" y="3633" width="239" height="24"/><text x="521" y="3649">post_image_width</text>
<rect class="r" x="517" y="3657" width="239" height="24"/><text x="521" y="3673">post_image_height</text>
<rect class="f" x="517" y="3681" width="108" height="24"/><rect class="f" x="625" y="3681" width="55" height="24"/><rect class="f" x="680" y="3681" width="76" height="24"/>
<text x="521" y="3697">&lt; 2</text><text class="e" x="752" y="3697">13 &gt;</text>
</g>
<g id="debra_platform">
<rect class="h" x="339" y="3741" width="107" height="24"/><text class="c" x="392.5" y="3758">debra_platform</text>
<rect class="r" x="339" y="3765" width="107" height="24"/><text x="343" y="3781">...</text>
<rect class="f" x="339" y="3789" width="42" height="24"/><rect class="f" x="381" y="3789" width="23" height="24"/><rect class="f" x="404" y="3789" width="42" height="24"/>
<text x="343" y="3805">&lt; 1</text><text class="e" x="442" y="3805">12 &gt;</text>
</g>
<text x="13" y="3958">Generated by SchemaSpy</text>
</svg>
